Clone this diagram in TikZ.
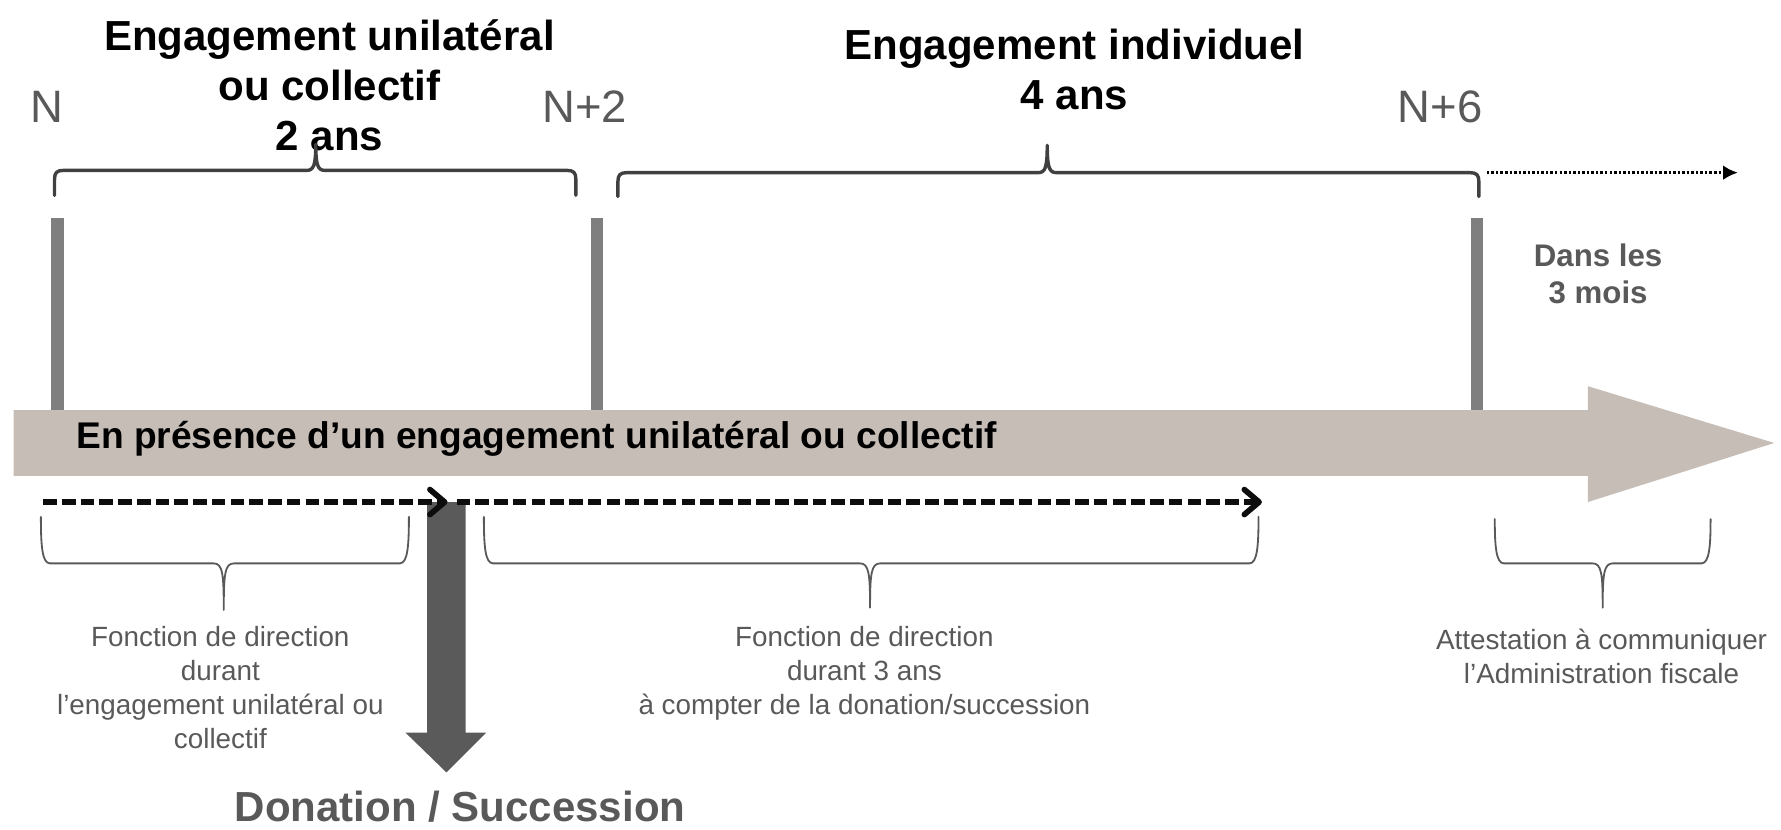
\documentclass[tikz,border=0pt]{standalone}
\usepackage{fontspec}
\setmainfont{Liberation Sans}
\usetikzlibrary{arrows.meta}
\definecolor{beige}{HTML}{C7BDB7}
\definecolor{bargray}{HTML}{7F7F7F}
\definecolor{bracegray}{HTML}{404040}
\definecolor{txtgray}{HTML}{595959}
\definecolor{darkarrow}{HTML}{5A5A5A}
\tikzset{
  title/.style={font=\bfseries\fontsize{37}{44}\selectfont, align=center, inner sep=0pt, text=black},
  yearlbl/.style={font=\fontsize{40}{46}\selectfont, text=txtgray, inner sep=0pt},
  smalltxt/.style={font=\fontsize{24.5}{30}\selectfont, text=txtgray, align=center, inner sep=0pt},
  topbrace/.style={draw=bracegray, line width=3pt, line join=round, line cap=round},
  botbrace/.style={draw=txtgray, line width=1.6pt, line join=round, line cap=round},
  vbar/.style={fill=bargray, draw=none},
  dasharrow/.style={line width=4.8pt, color=black!95, dash pattern=on 12pt off 4.5pt, -{Straight Barb[length=13pt,width=22pt,line width=5pt,line cap=round,line join=round]}}
}
\begin{document}
\begin{tikzpicture}[x=1pt,y=-1pt]
\useasboundingbox (0,0) rectangle (1568,730);

% big timeline arrow
\fill[beige] (12,361) -- (1398,361) -- (1398,340) -- (1562,390) -- (1398,442) -- (1398,419) -- (12,419) -- cycle;
\node[anchor=west, inner sep=0pt, font=\bfseries\fontsize{32.7}{38}\selectfont] (tl) at (67,386) {En présence d’un engagement unilatéral ou collectif};

% vertical bars
\fill[vbar] (45,192) rectangle (56,361);
\fill[vbar] (520,192) rectangle (531,361);
\fill[vbar] (1295,192) rectangle (1306,361);

% year labels
\node[yearlbl] (n0) at (41,94) {N};
\node[yearlbl] (n2) at (515,94) {N+2};
\node[yearlbl] (n6) at (1268,94) {N+6};

% titles
\node[title] (t1) at (290,75) {Engagement unilatéral\\ou collectif\\2 ans};
\node[title] (t2) at (946,61) {Engagement individuel\\4 ans};

% top braces
\draw[topbrace] (48,172) -- (48,158) .. controls (48,152) and (50,150) .. (56,150) -- (270,150)
  .. controls (276,150) and (278,146) .. (278,127)
  .. controls (278,146) and (280,150) .. (286,150) -- (499,150)
  .. controls (505,150) and (507,152) .. (507,158) -- (507,172);
\draw[topbrace] (544,173) -- (544,160) .. controls (544,154) and (546,152) .. (552,152) -- (914,152)
  .. controls (920,152) and (922,148) .. (922,128)
  .. controls (922,148) and (924,152) .. (930,152) -- (1294,152)
  .. controls (1300,152) and (1302,154) .. (1302,160) -- (1302,173);

% dotted continuation
\coordinate (dotS) at (1309,152);
\coordinate (dotE) at (1530,152);
\draw[line width=2.4pt, dash pattern=on 2.2pt off 1.8pt, -{Latex[length=13pt,width=13pt]}] (dotS) -- (dotE);

% Dans les 3 mois
\node[font=\bfseries\fontsize{27.5}{33}\selectfont, text=txtgray, align=center, inner sep=0pt] (dm) at (1407,241) {Dans les\\3 mois};

% down arrow
\fill[darkarrow] (376,442) -- (410,442) -- (410,645) -- (428,645) -- (393,680) -- (357,645) -- (376,645) -- cycle;
\node[font=\bfseries\fontsize{37}{44}\selectfont, text=txtgray, inner sep=0pt] (ds) at (405,710) {Donation / Succession};

% dashed arrows
\coordinate (d1s) at (38,442);
\coordinate (d1e) at (394,442);
\coordinate (d2s) at (402,442);
\coordinate (d2e) at (1111,442);
\draw[dasharrow] (d1s) -- (d1e);
\draw[dasharrow] (d2s) -- (d2e);

% bottom braces
\draw[botbrace] (36,455) .. controls (36,480) and (37,496) .. (44,496) -- (188,496)
  .. controls (196,496) and (197,505) .. (197,537)
  .. controls (197,505) and (198,496) .. (206,496) -- (352,496)
  .. controls (359,496) and (360,480) .. (360,455);
\draw[botbrace] (426,455) .. controls (426,480) and (427,496) .. (434,496) -- (757,496)
  .. controls (765,496) and (766,505) .. (766,535)
  .. controls (766,505) and (767,496) .. (775,496) -- (1100,496)
  .. controls (1107,496) and (1108,480) .. (1108,455);
\draw[botbrace] (1316,457) .. controls (1316,480) and (1317,496) .. (1324,496) -- (1402,496)
  .. controls (1410,496) and (1411,505) .. (1411,535)
  .. controls (1411,505) and (1412,496) .. (1420,496) -- (1498,496)
  .. controls (1505,496) and (1506,480) .. (1506,457);

% bottom texts
\node[smalltxt] (f1) at (194,605) {Fonction de direction\\durant\\l’engagement unilatéral ou\\collectif};
\node[smalltxt] (f2) at (761,593) {Fonction de direction\\durant 3 ans\\à compter de la donation/succession};
\node[smalltxt] (att) at (1410,578) {Attestation à communiquer\\l’Administration fiscale};
\end{tikzpicture}
\end{document}
